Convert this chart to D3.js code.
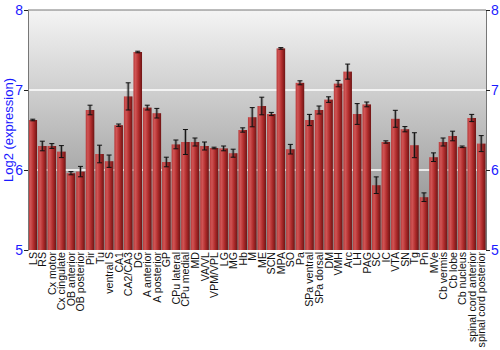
<!DOCTYPE html>
<html><head><meta charset="utf-8">
<script src="https://cdn.jsdelivr.net/npm/d3@7"></script>
<style>body{margin:0;background:#fff;}svg{display:block;}</style>
</head><body>
<script>
const categories = ["LS","RS","Cx motor","Cx cingulate","OB anterior","OB posterior","Pir","Tu","ventral S","CA1","CA2/CA3","DG","A anterior","A posterior","GP","CPu lateral","CPu medial","MD","VA/VL","VPM/VPL","LG","MG","Hb","M","ME","SCN","MPA","SO","Pa","SPa ventral","SPa dorsal","DM","VMH","Arc","LH","PAG","SC","IC","VTA","SN","Tg","Pn","MVe","Cb vermis","Cb lobe","Cb nucleus","spinal cord anterior","spinal cord posterior"];
const values = [6.625,6.30,6.30,6.23,5.96,5.98,6.75,6.20,6.11,6.56,6.92,7.475,6.78,6.71,6.10,6.32,6.35,6.35,6.30,6.275,6.27,6.21,6.50,6.66,6.80,6.70,7.52,6.26,7.09,6.625,6.75,6.88,7.08,7.23,6.70,6.82,5.81,6.35,6.64,6.51,6.31,5.66,6.16,6.35,6.425,6.29,6.65,6.33];
const errors = [0.01,0.06,0.03,0.075,0.02,0.065,0.06,0.11,0.077,0.015,0.17,0.01,0.03,0.06,0.06,0.055,0.156,0.05,0.05,0.01,0.03,0.05,0.027,0.12,0.11,0.02,0.01,0.06,0.025,0.07,0.05,0.035,0.04,0.094,0.13,0.03,0.104,0.015,0.106,0.033,0.156,0.054,0.054,0.05,0.06,0.01,0.045,0.10];
const yTicks = [5,6,7,8];
const yTitle = "Log2 (expression)";

const W = 500, H = 350;
const m = {left:28, right:14, top:10, bottom:100};
const svg = d3.select("body").append("svg").attr("width",W).attr("height",H);
const defs = svg.append("defs");
const bg = defs.append("linearGradient").attr("id","bg").attr("x1",0).attr("y1",0).attr("x2",0).attr("y2",1);
bg.append("stop").attr("offset","0%").attr("stop-color","#f4f4f4");
bg.append("stop").attr("offset","100%").attr("stop-color","#858585");
const bar = defs.append("linearGradient").attr("id","bar").attr("x1",0).attr("y1",0).attr("x2",1).attr("y2",0);
bar.append("stop").attr("offset","0%").attr("stop-color","#b83a3a");
bar.append("stop").attr("offset","25%").attr("stop-color","#d05454");
bar.append("stop").attr("offset","60%").attr("stop-color","#b02c2c");
bar.append("stop").attr("offset","100%").attr("stop-color","#6e1414");

const x = d3.scaleBand().domain(categories).range([m.left, W-m.right]).paddingInner(0.1).paddingOuter(0.05);
const y = d3.scaleLinear().domain([5,8]).range([H-m.bottom, m.top]);

svg.append("rect").attr("x",m.left).attr("y",m.top).attr("width",W-m.right-m.left).attr("height",H-m.bottom-m.top).attr("fill","url(#bg)");

svg.append("g").selectAll("line").data(yTicks.filter(t=>t>5&&t<8)).join("line")
  .attr("x1",m.left).attr("x2",W-m.right).attr("y1",d=>y(d)).attr("y2",d=>y(d))
  .attr("stroke","#fff").attr("stroke-width",1.5);

svg.append("g").selectAll("rect").data(categories).join("rect")
  .attr("x",d=>x(d)).attr("width",x.bandwidth())
  .attr("y",(d,i)=>y(values[i])).attr("height",(d,i)=>y(5)-y(values[i]))
  .attr("fill","url(#bar)");

const eb = svg.append("g");
categories.forEach((c,i)=>{
  const cx = x(c)+x.bandwidth()/2;
  const y1 = y(values[i]+errors[i]), y2 = y(values[i]-errors[i]);
  eb.append("line").attr("x1",cx).attr("x2",cx).attr("y1",y1).attr("y2",y2).attr("stroke","rgba(60,60,60,0.35)").attr("stroke-width",3);
  eb.append("line").attr("x1",cx).attr("x2",cx).attr("y1",y1).attr("y2",y2).attr("stroke","#111").attr("stroke-width",1);
  [y1,y2].forEach(yy=>eb.append("line").attr("x1",cx-2.5).attr("x2",cx+2.5).attr("y1",yy).attr("y2",yy).attr("stroke","#111").attr("stroke-width",1));
});

svg.append("line").attr("x1",m.left).attr("x2",W-m.right).attr("y1",m.top).attr("y2",m.top).attr("stroke","#777");

const yl = svg.append("g").attr("transform",`translate(${m.left},0)`).call(d3.axisLeft(y).tickValues(yTicks).tickSize(4).tickFormat(d3.format("d")));
const yr = svg.append("g").attr("transform",`translate(${W-m.right},0)`).call(d3.axisRight(y).tickValues(yTicks).tickSize(4).tickFormat(d3.format("d")));
[yl,yr].forEach(g=>{
  g.select(".domain").attr("stroke","#777");
  g.selectAll(".tick line").attr("stroke","#222");
  g.selectAll(".tick text").attr("fill","#1a1aff").attr("font-family","Liberation Sans, Arial, sans-serif").attr("font-size",14);
});
yl.selectAll(".tick text").attr("x",-5);
yr.selectAll(".tick text").attr("x",5);

svg.append("text").attr("transform",`translate(13,${(m.top+H-m.bottom)/2}) rotate(-90)`)
  .attr("text-anchor","middle").attr("font-family","Liberation Sans, Arial, sans-serif").attr("font-size",13)
  .attr("fill","#1a1aff").text(yTitle);

svg.append("g").selectAll("text").data(categories).join("text")
  .attr("transform",d=>`translate(${x(d)+x.bandwidth()/2+4},${H-m.bottom+2}) rotate(-90)`)
  .attr("text-anchor","end").attr("font-family","Liberation Sans, Arial, sans-serif").attr("font-size",10.6)
  .attr("fill","#111").text(d=>d);
</script>
</body></html>
